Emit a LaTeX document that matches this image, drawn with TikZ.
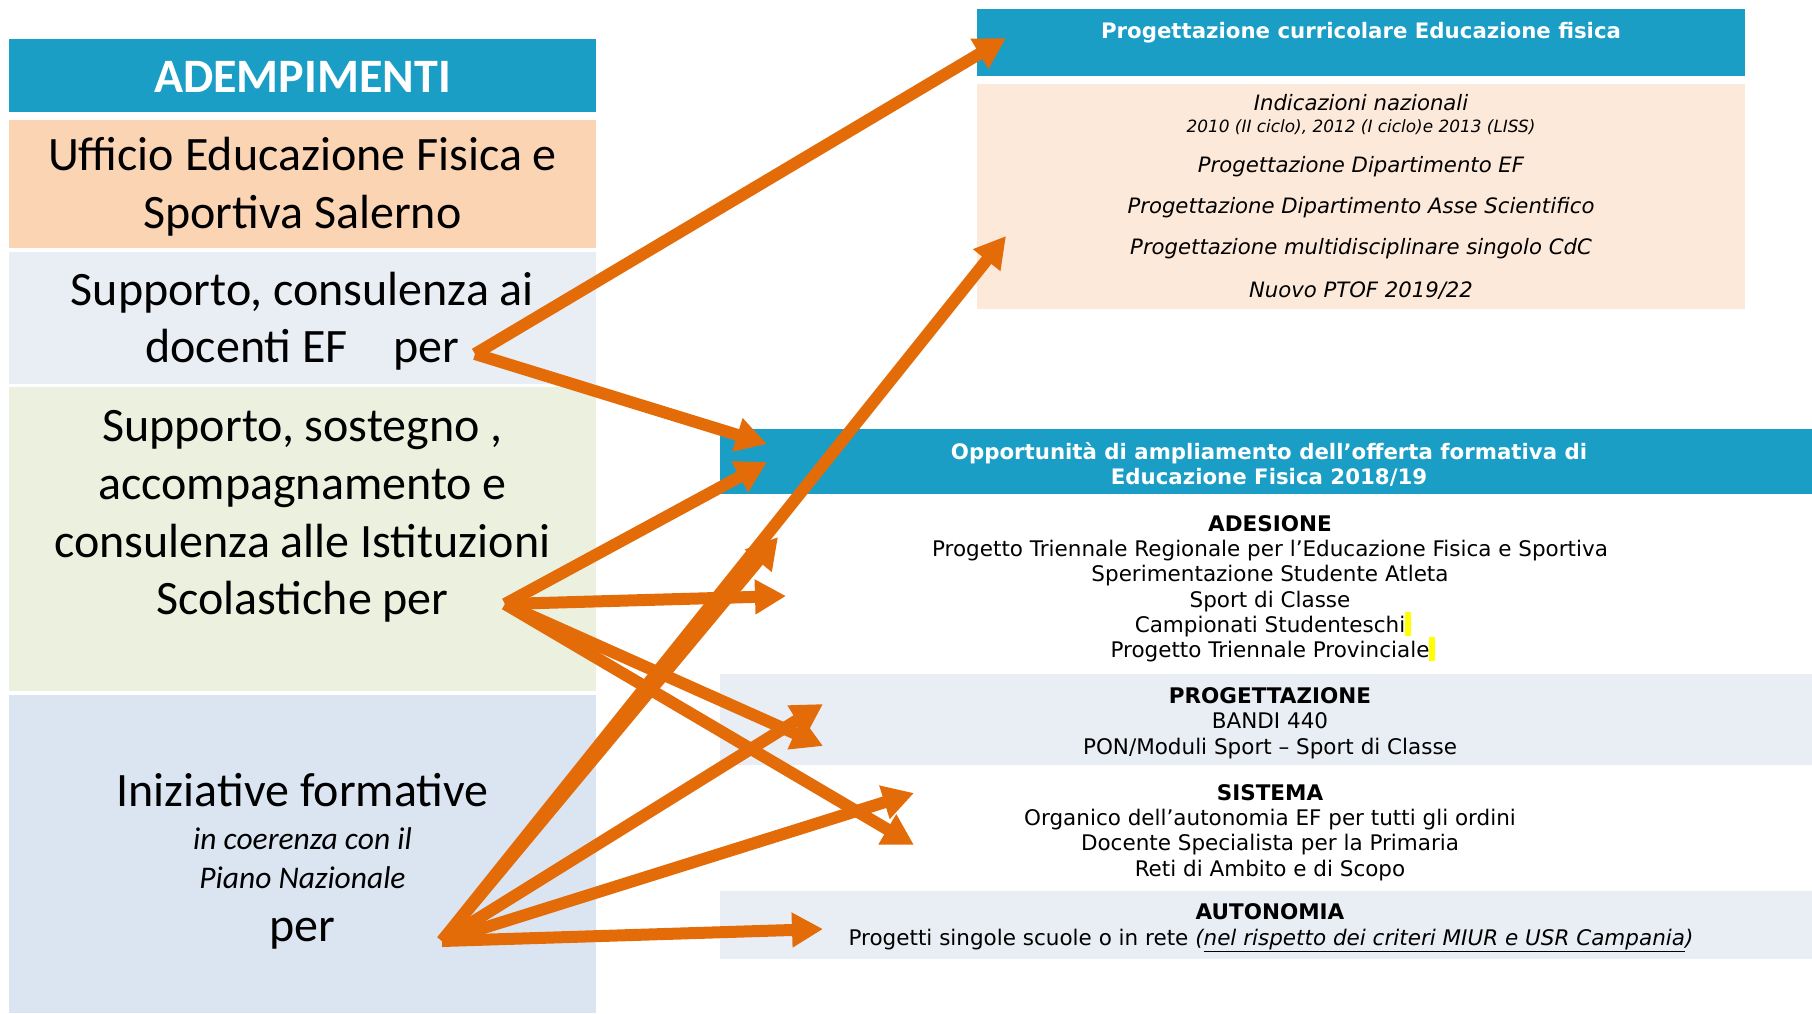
\documentclass[tikz,border=0pt]{standalone}
\usepackage{fontspec}
\setmainfont{Carlito}
\newfontfamily\vfont{DejaVu Sans}
\usetikzlibrary{arrows.meta}
\definecolor{hdrblue}{HTML}{1A9EC6}
\definecolor{peachA}{HTML}{FBD4B4}
\definecolor{peachB}{HTML}{FDE9D9}
\definecolor{greyblue}{HTML}{E9EDF4}
\definecolor{greenA}{HTML}{EBF1DE}
\definecolor{blueA}{HTML}{DBE5F1}
\definecolor{arrowor}{HTML}{E36C09}
\definecolor{hlyellow}{HTML}{FFFF00}
\newcommand{\hlmark}{\textcolor{hlyellow}{\rule[-0.19em]{0.28em}{1.12em}}}
\tikzset{
  panel/.style={inner sep=0pt, outer sep=0pt, draw=none, anchor=north west},
  ltxt/.style={anchor=base, inner sep=0pt, font=\fontsize{48}{58}\selectfont},
  lhead/.style={anchor=base, inner sep=0pt, text=white, font=\bfseries\fontsize{48}{58}\selectfont},
  lital/.style={anchor=base, inner sep=0pt, font=\itshape\fontsize{31.5}{38}\selectfont},
  rtxt/.style={anchor=base, inner sep=0pt, font=\vfont\fontsize{21.5}{26}\selectfont},
  rbold/.style={anchor=base, inner sep=0pt, font=\vfont\bfseries\fontsize{21.5}{26}\selectfont},
  rhead/.style={anchor=base, inner sep=0pt, text=white, font=\vfont\bfseries\fontsize{21.3}{26}\selectfont},
  rital/.style={anchor=base, inner sep=0pt, font=\vfont\itshape\fontsize{21.2}{26}\selectfont},
  rsmall/.style={anchor=base, inner sep=0pt, font=\vfont\itshape\fontsize{16.9}{20}\selectfont},
  arr/.style={draw=arrowor, line width=12pt, -{Triangle[length=31pt,width=33pt]}}
}
\begin{document}
\begin{tikzpicture}[x=1pt,y=-1pt]
\useasboundingbox[fill=white] (0,0) rectangle (1812,1013);
% left column panels
\node[panel, fill=hdrblue, minimum width=587pt, minimum height=73pt] (adem) at (9,39) {};
\node[panel, fill=peachA, minimum width=587pt, minimum height=128pt] (uff) at (9,120) {};
\node[panel, fill=greyblue, minimum width=587pt, minimum height=132pt] (supA) at (9,252) {};
\node[panel, fill=greenA, minimum width=587pt, minimum height=304pt] (supB) at (9,387) {};
\node[panel, fill=blueA, minimum width=587pt, minimum height=318pt] (inz) at (9,695) {};
% right panels
\node[panel, fill=hdrblue, minimum width=768pt, minimum height=67pt] (hcur) at (977,9) {};
\node[panel, fill=peachB, minimum width=768pt, minimum height=225pt] (pcur) at (977,84) {};
\node[panel, fill=hdrblue, minimum width=1092pt, minimum height=65pt] (hopp) at (720,429) {};
\node[panel, fill=greyblue, minimum width=1092pt, minimum height=91pt] (bprog) at (720,674) {};
\node[panel, fill=greyblue, minimum width=1092pt, minimum height=68pt] (baut) at (720,891) {};
% left texts
\node[lhead] (tadem) at (302.5,92) {ADEMPIMENTI};
\node[ltxt] (tuff1) at (302.5,170) {Ufficio Educazione Fisica e};
\node[ltxt] (tuff2) at (302.5,228) {Sportiva Salerno};
\node[ltxt] (tsa1) at (302.5,305) {Supporto, consulenza ai};
\node[ltxt] (tsa2) at (302.5,362) {docenti EF\hspace*{46pt}per};
\node[ltxt] (tsb1) at (302.5,441) {Supporto, sostegno ,};
\node[ltxt] (tsb2) at (302.5,499) {accompagnamento e};
\node[ltxt] (tsb3) at (302.5,557) {consulenza alle Istituzioni};
\node[ltxt] (tsb4) at (302.5,614) {Scolastiche per};
\node[ltxt] (tin1) at (302.5,806) {Iniziative formative};
\node[lital] (tin2) at (302.5,849) {in coerenza con il};
\node[lital] (tin3) at (302.5,888) {Piano Nazionale};
\node[ltxt] (tin4) at (302.5,941) {per};
% right top texts
\node[rhead] (thcur) at (1361,38) {Progettazione curricolare Educazione fisica};
\node[rital] (tc1) at (1361,110) {Indicazioni nazionali};
\node[rsmall] (tc2) at (1361,132) {2010 (II ciclo), 2012 (I ciclo)e 2013 (LISS)};
\node[rital] (tc3) at (1361,172) {Progettazione Dipartimento EF};
\node[rital] (tc4) at (1361,213) {Progettazione Dipartimento Asse Scientifico};
\node[rital] (tc5) at (1361,254) {Progettazione multidisciplinare singolo CdC};
\node[rital] (tc6) at (1361,297) {Nuovo PTOF 2019/22};
% right lower texts
\node[rhead] (tho1) at (1269,459) {Opportunità di ampliamento dell’offerta formativa di};
\node[rhead] (tho2) at (1269,484) {Educazione Fisica 2018/19};
\node[rbold] (ta0) at (1270,531) {ADESIONE};
\node[rtxt] (ta1) at (1270,556) {Progetto Triennale Regionale per l’Educazione Fisica e Sportiva};
\node[rtxt] (ta2) at (1270,581) {Sperimentazione Studente Atleta};
\node[rtxt] (ta3) at (1270,607) {Sport di Classe};
\node[rtxt] (ta4) at (1273,632) {Campionati Studenteschi\hlmark};
\node[rtxt] (ta5) at (1273,657) {Progetto Triennale Provinciale\hlmark};
\node[rbold] (tp0) at (1270,703) {PROGETTAZIONE};
\node[rtxt] (tp1) at (1270,728) {BANDI 440};
\node[rtxt] (tp2) at (1270,754) {PON/Moduli Sport – Sport di Classe};
\node[rbold] (ts0) at (1270,800) {SISTEMA};
\node[rtxt] (ts1) at (1270,825) {Organico dell’autonomia EF per tutti gli ordini};
\node[rtxt] (ts2) at (1270,850) {Docente Specialista per la Primaria};
\node[rtxt] (ts3) at (1270,876) {Reti di Ambito e di Scopo};
\node[rbold] (tu0) at (1270,919) {AUTONOMIA};
\node[rtxt] (tu1) at (1271,945) {Progetti singole scuole o in rete \textit{(\underline{nel rispetto dei criteri MIUR e USR Campania})}};
% arrow endpoints
\coordinate (sA) at (475,354);
\coordinate (sB) at (505,604);
\coordinate (sC) at (442,941);
\coordinate (e1) at (1006,38);
\coordinate (e2) at (767,444);
\coordinate (e3) at (767,462);
\coordinate (e4) at (786,596);
\coordinate (e5) at (823,746);
\coordinate (e6) at (914,845);
\coordinate (e7) at (1006,236);
\coordinate (e8) at (778,537);
\coordinate (e9) at (823,704);
\coordinate (e10) at (914,793);
\coordinate (e11) at (823,929);
% arrows
\draw[arr] (sA) -- (e1);
\draw[arr] (sA) -- (e2);
\draw[arr] (sB) -- (e3);
\draw[arr] (sB) -- (e4);
\draw[arr] (sB) -- (e5);
\draw[arr] (sB) -- (e6);
\draw[arr] (sC) -- (e7);
\draw[arr] (sC) -- (e8);
\draw[arr] (sC) -- (e9);
\draw[arr] (sC) -- (e10);
\draw[arr] (sC) -- (e11);
\end{tikzpicture}
\end{document}
